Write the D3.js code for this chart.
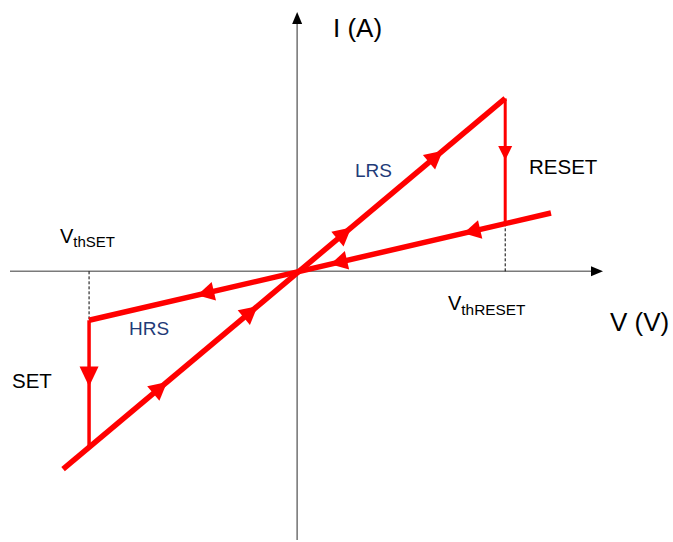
<!DOCTYPE html>
<html>
<head>
<meta charset="utf-8">
<script src="https://cdn.jsdelivr.net/npm/d3@7"></script>
<style>
  body { margin: 0; background: #fff; }
  text { font-family: "Liberation Sans", Arial, sans-serif; }
</style>
</head>
<body>
<div id="chart"></div>
<script>
// schematic I-V hysteresis (arbitrary units, VthRESET = 1)
var lrsV = [-1.125, 1.0],  lrsI = [-0.95, 0.83];    // low resistance state
var hrsV = [-1.0, 1.22],   hrsI = [-0.235, 0.28];   // high resistance state
var setV = [-1.0, -1.0],   setI = [-0.235, -0.845];
var resetV = [1.0, 1.0],   resetI = [0.83, 0.229];

// arrow tips along each branch
var lrsArrowV = [-0.625, -0.19, 0.26, 0.70];
var hrsArrowV = [-0.48, 0.16, 0.80];
var resetArrowI = [0.534];
var setArrowI = [-0.553];

var width = 673, height = 542;

var svg = d3.select("#chart")
    .append("svg")
        .attr("width", width)
        .attr("height", height);

var x = d3.scaleLinear()
        .domain([-1.38, 1.47])
        .range([10, 603]);

var y = d3.scaleLinear()
        .domain([-1.29, 1.245])
        .range([540, 12]);

// axes
var axisCol = "#7a7a7a";
svg.append("line")
    .attr("x1", x(-1.38)).attr("x2", x(1.47) - 10)
    .attr("y1", y(0)).attr("y2", y(0))
    .attr("stroke", axisCol).attr("stroke-width", 1.6);
svg.append("line")
    .attr("x1", x(0)).attr("x2", x(0))
    .attr("y1", y(-1.29)).attr("y2", y(1.245) + 10)
    .attr("stroke", axisCol).attr("stroke-width", 1.6);

function tri(tx, ty, ang, len, hw) {
    var c = Math.cos(ang), s = Math.sin(ang);
    var bx = tx - c * len, by = ty - s * len;
    return "M" + tx + "," + ty +
        "L" + (bx - s * hw) + "," + (by + c * hw) +
        "L" + (bx + s * hw) + "," + (by - c * hw) + "Z";
}

svg.append("path").attr("d", tri(x(1.47), y(0), 0, 12, 5)).attr("fill", "#000");
svg.append("path").attr("d", tri(x(0), y(1.245), -Math.PI / 2, 12, 5)).attr("fill", "#000");

// dashed threshold guides
svg.append("line")
    .attr("x1", x(setV[0])).attr("x2", x(setV[0]))
    .attr("y1", y(0)).attr("y2", y(setI[0]))
    .attr("stroke", "#000").attr("stroke-width", 1).attr("stroke-dasharray", "3,2");
svg.append("line")
    .attr("x1", x(resetV[0])).attr("x2", x(resetV[0]))
    .attr("y1", y(0)).attr("y2", y(resetI[1]))
    .attr("stroke", "#000").attr("stroke-width", 1).attr("stroke-dasharray", "3,2");

var line = d3.line()
    .x(function(d) { return x(d[0]); })
    .y(function(d) { return y(d[1]); });

function pts(vs, is) { return vs.map(function(v, i) { return [v, is[i]]; }); }

var red = "#ff0000";
svg.append("path").attr("d", line(pts(resetV, resetI)))
    .attr("stroke", red).attr("stroke-width", 3).attr("fill", "none");
svg.append("path").attr("d", line(pts(setV, setI)))
    .attr("stroke", red).attr("stroke-width", 3.5).attr("fill", "none");
svg.append("path").attr("d", line(pts(lrsV, lrsI)))
    .attr("stroke", red).attr("stroke-width", 5.5).attr("fill", "none");
svg.append("path").attr("d", line(pts(hrsV, hrsI)))
    .attr("stroke", red).attr("stroke-width", 5.5).attr("fill", "none");

// direction arrows on the curves
var lrsAng = Math.atan2(y(lrsI[1]) - y(lrsI[0]), x(lrsV[1]) - x(lrsV[0]));
var hrsAng = Math.atan2(y(hrsI[0]) - y(hrsI[1]), x(hrsV[0]) - x(hrsV[1]));
var lrsSlope = (lrsI[1] - lrsI[0]) / (lrsV[1] - lrsV[0]);
var hrsSlope = (hrsI[1] - hrsI[0]) / (hrsV[1] - hrsV[0]);

lrsArrowV.forEach(function(v) {
    var i = lrsI[0] + (v - lrsV[0]) * lrsSlope;
    svg.append("path").attr("d", tri(x(v), y(i), lrsAng, 18, 9.5)).attr("fill", red);
});
hrsArrowV.forEach(function(v) {
    var i = hrsI[0] + (v - hrsV[0]) * hrsSlope;
    svg.append("path").attr("d", tri(x(v), y(i), hrsAng, 17, 9.5)).attr("fill", red);
});
resetArrowI.forEach(function(i) {
    svg.append("path").attr("d", tri(x(resetV[0]), y(i), Math.PI / 2, 14, 7)).attr("fill", red);
});
setArrowI.forEach(function(i) {
    svg.append("path").attr("d", tri(x(setV[0]), y(i), Math.PI / 2, 20, 9.5)).attr("fill", red);
});

// labels
function label(tx, ty, str, size, col) {
    return svg.append("text").attr("x", tx).attr("y", ty)
        .attr("font-size", size).attr("fill", col || "#000").text(str);
}
label(333, 37, "I (A)", 26);
label(610, 331, "V (V)", 26);
label(529, 174, "RESET", 20.5);
label(12, 388, "SET", 20.5);
label(355, 177, "LRS", 19, "#1f3b78");
label(129, 335, "HRS", 19, "#1f3b78");

var vs = label(60, 243, "V", 20);
vs.append("tspan").attr("font-size", 15).attr("dy", 4).text("thSET");
var vr = label(448, 310, "V", 20);
vr.append("tspan").attr("font-size", 15.4).attr("dy", 5).text("thRESET");
</script>
</body>
</html>
